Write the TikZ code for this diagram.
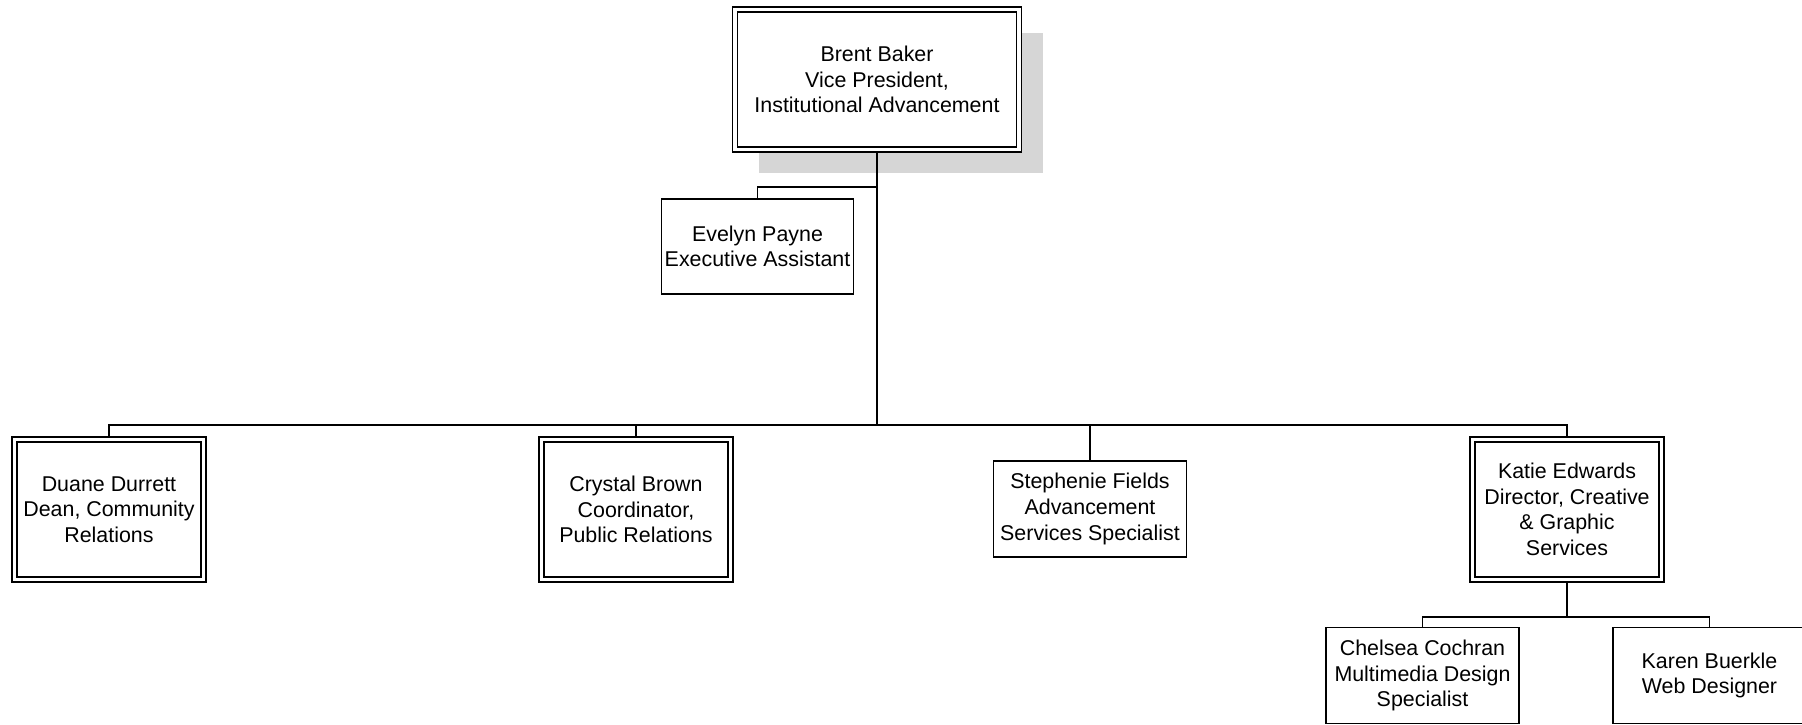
\documentclass[tikz,border=0pt]{standalone}
\usepackage{fontspec}
\setmainfont{Liberation Sans}
\usetikzlibrary{shadows}

\begin{document}
\begin{tikzpicture}[x=0.5pt,y=-0.5pt,line width=0.7pt,
    every node/.style={font=\fontsize{10.7}{12.8}\selectfont, align=center, inner sep=0pt},
    plainbox/.style={rectangle, draw, fill=white, minimum width=96.5pt, minimum height=48pt},
    doublebox/.style={plainbox, double, double distance=1.8pt, outer sep=1.25pt, minimum width=94.5pt, minimum height=70pt}]

         \useasboundingbox (0,0) rectangle (1802,724);

         \node [doublebox, minimum width=142pt, drop shadow={shadow xshift=12pt, shadow yshift=-11.5pt, fill=black!16, opacity=1}] (VP) at (877,79.5) {Brent Baker\\Vice President,\\Institutional Advancement};
         \node [plainbox, minimum width=96pt, minimum height=47.5pt] (EA) at (757.5,246.5) {Evelyn Payne\\Executive Assistant};
         \node [doublebox] (CR) at (109,509.5) {Duane Durrett\\Dean, Community\\Relations};
         \node [doublebox] (PR) at (636,509.5) {Crystal Brown\\Coordinator,\\Public Relations};
         \node [plainbox] (AS) at (1090,509) {Stephenie Fields\\Advancement\\Services Specialist};
         \node [doublebox] (CG) at (1567,509.5) {Katie Edwards\\Director, Creative\\\& Graphic\\Services};
         \node [plainbox] (MD) at (1422.5,675.5) {Chelsea Cochran\\Multimedia Design\\Specialist};
         \node [plainbox] (WD) at (1709.5,675.5) {Karen Buerkle\\Web Designer};

         \coordinate (EAbus) at (VP.south |- 0,187);
         \coordinate (VPbus) at (VP.south |- 0,425);
         \coordinate (CGbus) at (CG.south |- 0,617);

  		 \draw (VP.south) -- (VPbus);
  		 \draw (EA.north) |- (EAbus);
  		 \draw (CR.north) |- (VPbus);
  		 \draw (PR.north) |- (VPbus);
  		 \draw (AS.north) |- (VPbus);
  		 \draw (CG.north) |- (VPbus);
  		 \draw (CG.south) -- (CGbus);
  		 \draw (MD.north) |- (CGbus);
  		 \draw (WD.north) |- (CGbus);

        \end{tikzpicture}
\end{document}
